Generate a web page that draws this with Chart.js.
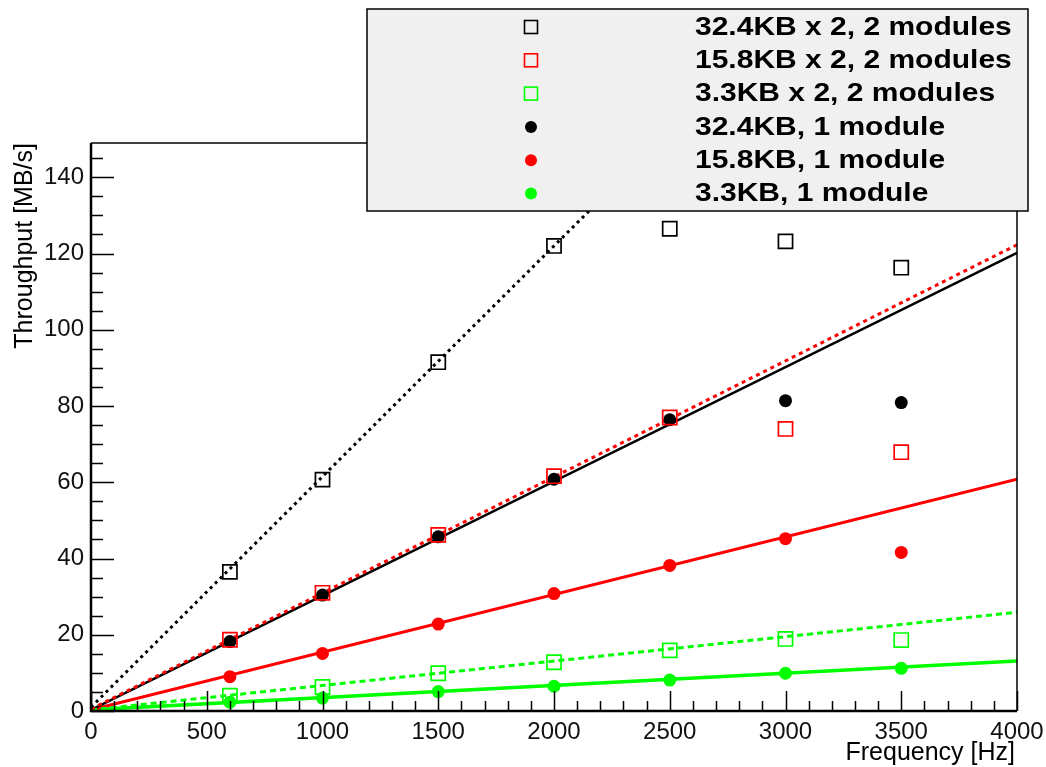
<!DOCTYPE html>
<html>
<head>
<meta charset="utf-8">
<script src="https://cdn.jsdelivr.net/npm/chart.js@4/dist/chart.umd.min.js"></script>
<style>
html,body{margin:0;padding:0;background:#fff;}
#wrap{width:1046px;height:767px;position:relative;}
</style>
</head>
<body>
<div id="wrap"><canvas id="c" width="1046" height="767"></canvas></div>
<script>
// ---- data ----
const freqs = [600, 1000, 1500, 2000, 2500, 3000, 3500];
const sq32 = [36.5, 60.7, 91.5, 122.0, 126.5, 123.2, 116.3];
const sq15 = [18.7, 31.0, 46.2, 61.6, 77.0, 74.0, 67.9];
const sq3  = [4.0, 6.3, 9.9, 12.8, 15.9, 18.9, 18.6];
const c32  = [18.2, 30.4, 45.7, 60.8, 76.4, 81.4, 80.9];
const c15  = [9.0, 15.1, 22.8, 30.8, 38.2, 45.2, 41.6];
const c3   = [2.3, 3.4, 5.1, 6.5, 8.1, 9.9, 11.2];
// fitted straight lines: value at 0 Hz and at 4000 Hz
const fitX = [0, 4000];
const fitSq32 = [1.0, 243.0];
const fitSq15 = [0.5, 122.3];
const fitSq3  = [0.3, 25.9];
const fitC32  = [0.3, 120.2];
const fitC15  = [0.3, 60.8];
const fitC3   = [0.3, 13.1];
const legendLabels = ["32.4KB x 2, 2 modules","15.8KB x 2, 2 modules","3.3KB x 2, 2 modules","32.4KB, 1 module","15.8KB, 1 module","3.3KB, 1 module"];
const xTitle = "Frequency [Hz]";
const yTitle = "Throughput [MB/s]";

const BLACK = '#000000', RED = '#ff0000', GREEN = '#00ff00';
const pts = (xs, ys) => xs.map((x, i) => ({x: x, y: ys[i]}));

function pointSet(label, ys, color, square) {
  return {
    label: label, data: pts(freqs, ys), showLine: false,
    pointStyle: square ? 'rect' : 'circle',
    pointRadius: square ? 10 : 6.5, pointHoverRadius: square ? 10 : 6.5,
    pointBackgroundColor: square ? 'rgba(0,0,0,0)' : color,
    pointBorderColor: color, pointBorderWidth: square ? 1.7 : 0,
    isMarker: true, square: square, mcolor: color
  };
}
function fitSet(ys, color, dash, width) {
  return {
    label: '', data: pts(fitX, ys), showLine: true, pointRadius: 0, pointHoverRadius: 0,
    borderColor: color, borderWidth: width, borderDash: dash, fill: false, tension: 0
  };
}

const datasets = [
  pointSet(legendLabels[0], sq32, BLACK, true),
  pointSet(legendLabels[1], sq15, RED, true),
  pointSet(legendLabels[2], sq3, GREEN, true),
  pointSet(legendLabels[3], c32, BLACK, false),
  pointSet(legendLabels[4], c15, RED, false),
  pointSet(legendLabels[5], c3, GREEN, false),
  fitSet(fitSq32, BLACK, [3, 4], 3),
  fitSet(fitSq15, RED, [4, 4], 3),
  fitSet(fitSq3, GREEN, [6, 4], 3),
  fitSet(fitC32, BLACK, [], 2.5),
  fitSet(fitC15, RED, [], 3),
  fitSet(fitC3, GREEN, [], 3.5)
];

const FONT = "'Liberation Sans', Arial, Helvetica, sans-serif";

const decor = {
  id: 'decor',
  afterDatasetsDraw(chart) {
    const ctx = chart.ctx, a = chart.chartArea;
    const xs = chart.scales.x, ys = chart.scales.y;
    ctx.save();
    // frame
    ctx.strokeStyle = '#000';
    ctx.lineWidth = 1.5;
    ctx.beginPath();
    ctx.moveTo(a.left, a.top); ctx.lineTo(a.right, a.top); ctx.lineTo(a.right, a.bottom);
    ctx.stroke();
    ctx.lineWidth = 2.5;
    ctx.beginPath();
    ctx.moveTo(a.left, a.top); ctx.lineTo(a.left, a.bottom); ctx.lineTo(a.right, a.bottom);
    ctx.stroke();
    // y ticks (inward)
    ctx.lineWidth = 1.5;
    ctx.beginPath();
    for (let v = ys.min; v <= ys.max + 1e-9; v += 5) {
      const py = Math.round(ys.getPixelForValue(v)) + 0.5;
      const len = (Math.round(v) % 20 === 0) ? 23 : 12;
      ctx.moveTo(a.left, py); ctx.lineTo(a.left + len, py);
    }
    // x ticks (inward)
    for (let v = xs.min; v <= xs.max + 1e-9; v += 100) {
      const px = Math.round(xs.getPixelForValue(v)) + 0.5;
      const len = (Math.round(v) % 500 === 0) ? 20 : 10;
      ctx.moveTo(px, a.bottom); ctx.lineTo(px, a.bottom - len);
    }
    ctx.stroke();
    // axis titles
    ctx.fillStyle = '#000';
    ctx.font = '25px ' + FONT;
    ctx.textAlign = 'right';
    ctx.textBaseline = 'alphabetic';
    ctx.fillText(xTitle, a.right - 2, 760);
    ctx.save();
    ctx.translate(32, a.top);
    ctx.rotate(-Math.PI / 2);
    ctx.textAlign = 'right';
    ctx.fillText(yTitle, 0, 0);
    ctx.restore();
    // legend box
    const L = 367, T = 9, R = 1028, B = 211;
    ctx.fillStyle = '#f0f0f0';
    ctx.fillRect(L, T, R - L, B - T);
    ctx.strokeStyle = '#000';
    ctx.lineWidth = 1.5;
    ctx.strokeRect(L, T, R - L, B - T);
    const markers = chart.data.datasets.filter(d => d.isMarker);
    markers.forEach((d, i) => {
      const cy = 27 + i * 33.3;
      const cx = 531;
      if (d.square) {
        ctx.strokeStyle = d.mcolor; ctx.lineWidth = 1.6;
        ctx.strokeRect(cx - 6.5, cy - 6.5, 13, 13);
      } else {
        ctx.fillStyle = d.mcolor;
        ctx.beginPath(); ctx.arc(cx, cy, 6, 0, Math.PI * 2); ctx.fill();
      }
      ctx.save();
      ctx.fillStyle = '#000';
      ctx.font = 'bold 25px ' + FONT;
      ctx.textAlign = 'left';
      ctx.textBaseline = 'middle';
      ctx.translate(695, cy + 1);
      ctx.scale(1.2, 1);
      ctx.fillText(d.label, 0, 0);
      ctx.restore();
    });
    ctx.restore();
  }
};

new Chart(document.getElementById('c'), {
  type: 'scatter',
  data: { datasets: datasets },
  options: {
    responsive: false, animation: false,
    layout: { padding: { top: 143, right: 29, bottom: 0, left: 0 } },
    plugins: { legend: { display: false }, tooltip: { enabled: false } },
    scales: {
      x: {
        type: 'linear', min: 0, max: 4000,
        grid: { display: false, drawTicks: false }, border: { display: false },
        ticks: { stepSize: 500, padding: 7, color: '#111', font: { family: FONT, size: 24 }, maxRotation: 0,
                 callback: v => String(v) },
        afterFit: s => { s.height = 56; s.paddingLeft = 0; s.paddingRight = 0; }
      },
      y: {
        type: 'linear', min: 0, max: 149,
        grid: { display: false, drawTicks: false }, border: { display: false },
        ticks: { stepSize: 20, includeBounds: false, padding: 7, color: '#111', font: { family: FONT, size: 24 },
                 callback: v => String(v) },
        afterFit: s => { s.width = 91; s.paddingTop = 0; s.paddingBottom = 0; }
      }
    }
  },
  plugins: [decor]
});
</script>
</body>
</html>
